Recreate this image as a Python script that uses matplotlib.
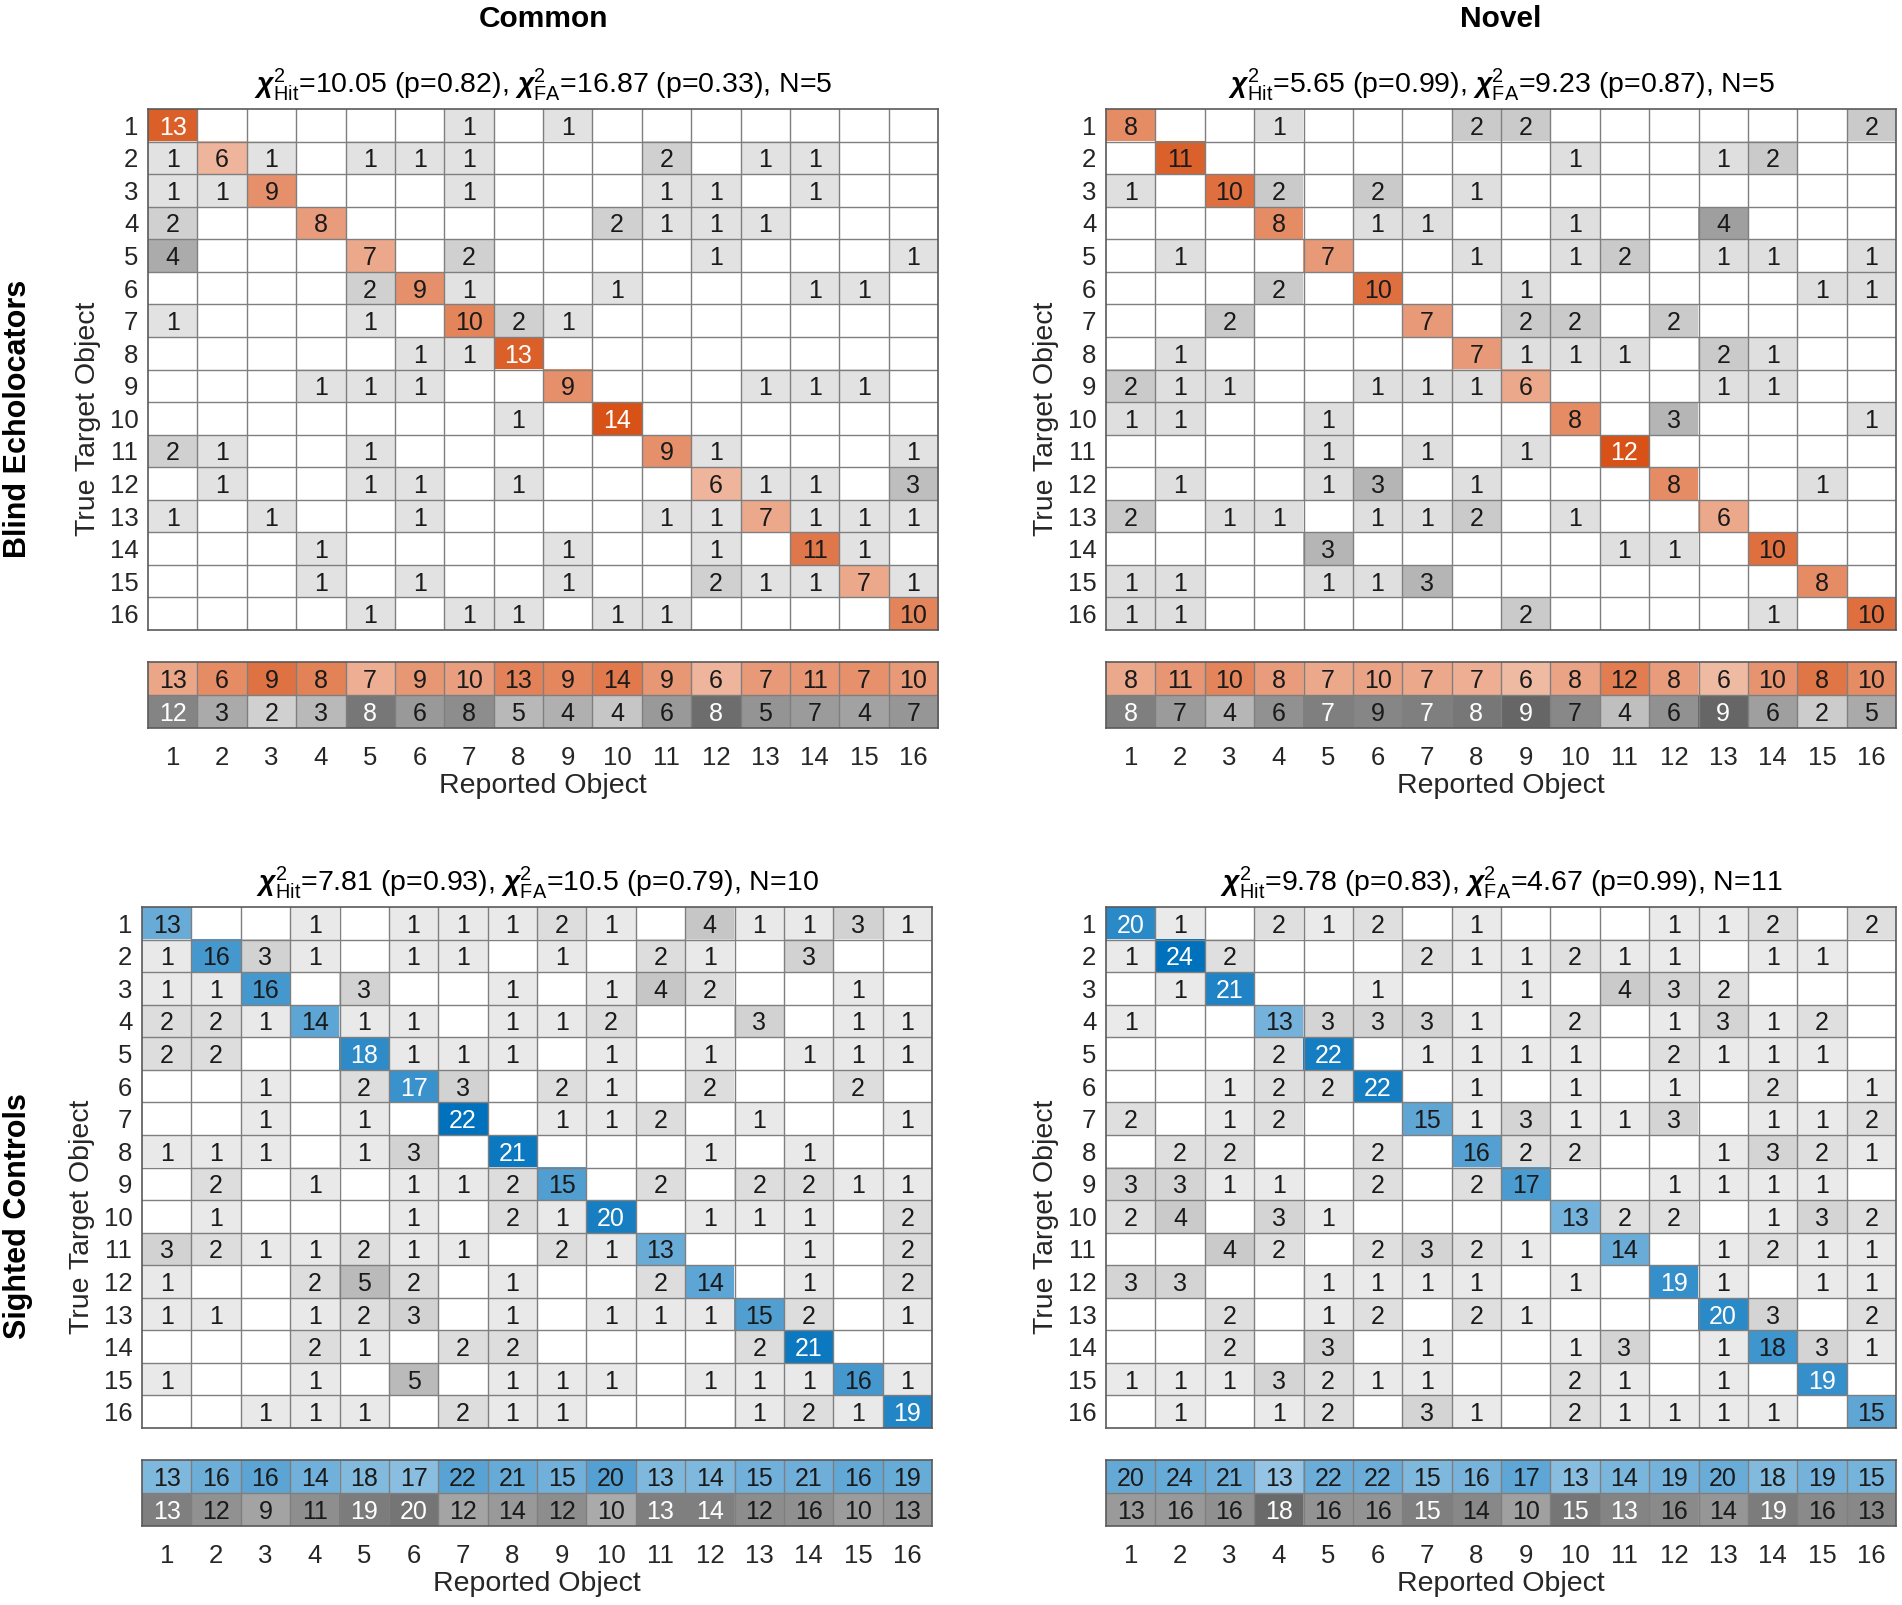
import numpy as np
import matplotlib
matplotlib.use('Agg')
import matplotlib.pyplot as plt

plt.rcParams['font.family'] = ['Liberation Sans', 'DejaVu Sans']
plt.rcParams['mathtext.fontset'] = 'custom'
plt.rcParams['mathtext.rm'] = 'Liberation Sans'
plt.rcParams['mathtext.it'] = 'Liberation Sans:italic'
plt.rcParams['mathtext.bf'] = 'Liberation Sans:bold:italic'

objects = list(range(1, 17))

# confusion counts, rows = true target object, cols = reported object
blind_common = [
    [13, 0, 0, 0, 0, 0, 1, 0, 1, 0, 0, 0, 0, 0, 0, 0],
    [1, 6, 1, 0, 1, 1, 1, 0, 0, 0, 2, 0, 1, 1, 0, 0],
    [1, 1, 9, 0, 0, 0, 1, 0, 0, 0, 1, 1, 0, 1, 0, 0],
    [2, 0, 0, 8, 0, 0, 0, 0, 0, 2, 1, 1, 1, 0, 0, 0],
    [4, 0, 0, 0, 7, 0, 2, 0, 0, 0, 0, 1, 0, 0, 0, 1],
    [0, 0, 0, 0, 2, 9, 1, 0, 0, 1, 0, 0, 0, 1, 1, 0],
    [1, 0, 0, 0, 1, 0, 10, 2, 1, 0, 0, 0, 0, 0, 0, 0],
    [0, 0, 0, 0, 0, 1, 1, 13, 0, 0, 0, 0, 0, 0, 0, 0],
    [0, 0, 0, 1, 1, 1, 0, 0, 9, 0, 0, 0, 1, 1, 1, 0],
    [0, 0, 0, 0, 0, 0, 0, 1, 0, 14, 0, 0, 0, 0, 0, 0],
    [2, 1, 0, 0, 1, 0, 0, 0, 0, 0, 9, 1, 0, 0, 0, 1],
    [0, 1, 0, 0, 1, 1, 0, 1, 0, 0, 0, 6, 1, 1, 0, 3],
    [1, 0, 1, 0, 0, 1, 0, 0, 0, 0, 1, 1, 7, 1, 1, 1],
    [0, 0, 0, 1, 0, 0, 0, 0, 1, 0, 0, 1, 0, 11, 1, 0],
    [0, 0, 0, 1, 0, 1, 0, 0, 1, 0, 0, 2, 1, 1, 7, 1],
    [0, 0, 0, 0, 1, 0, 1, 1, 0, 1, 1, 0, 0, 0, 0, 10],
]

blind_novel = [
    [8, 0, 0, 1, 0, 0, 0, 2, 2, 0, 0, 0, 0, 0, 0, 2],
    [0, 11, 0, 0, 0, 0, 0, 0, 0, 1, 0, 0, 1, 2, 0, 0],
    [1, 0, 10, 2, 0, 2, 0, 1, 0, 0, 0, 0, 0, 0, 0, 0],
    [0, 0, 0, 8, 0, 1, 1, 0, 0, 1, 0, 0, 4, 0, 0, 0],
    [0, 1, 0, 0, 7, 0, 0, 1, 0, 1, 2, 0, 1, 1, 0, 1],
    [0, 0, 0, 2, 0, 10, 0, 0, 1, 0, 0, 0, 0, 0, 1, 1],
    [0, 0, 2, 0, 0, 0, 7, 0, 2, 2, 0, 2, 0, 0, 0, 0],
    [0, 1, 0, 0, 0, 0, 0, 7, 1, 1, 1, 0, 2, 1, 0, 0],
    [2, 1, 1, 0, 0, 1, 1, 1, 6, 0, 0, 0, 1, 1, 0, 0],
    [1, 1, 0, 0, 1, 0, 0, 0, 0, 8, 0, 3, 0, 0, 0, 1],
    [0, 0, 0, 0, 1, 0, 1, 0, 1, 0, 12, 0, 0, 0, 0, 0],
    [0, 1, 0, 0, 1, 3, 0, 1, 0, 0, 0, 8, 0, 0, 1, 0],
    [2, 0, 1, 1, 0, 1, 1, 2, 0, 1, 0, 0, 6, 0, 0, 0],
    [0, 0, 0, 0, 3, 0, 0, 0, 0, 0, 1, 1, 0, 10, 0, 0],
    [1, 1, 0, 0, 1, 1, 3, 0, 0, 0, 0, 0, 0, 0, 8, 0],
    [1, 1, 0, 0, 0, 0, 0, 0, 2, 0, 0, 0, 0, 1, 0, 10],
]

sighted_common = [
    [13, 0, 0, 1, 0, 1, 1, 1, 2, 1, 0, 4, 1, 1, 3, 1],
    [1, 16, 3, 1, 0, 1, 1, 0, 1, 0, 2, 1, 0, 3, 0, 0],
    [1, 1, 16, 0, 3, 0, 0, 1, 0, 1, 4, 2, 0, 0, 1, 0],
    [2, 2, 1, 14, 1, 1, 0, 1, 1, 2, 0, 0, 3, 0, 1, 1],
    [2, 2, 0, 0, 18, 1, 1, 1, 0, 1, 0, 1, 0, 1, 1, 1],
    [0, 0, 1, 0, 2, 17, 3, 0, 2, 1, 0, 2, 0, 0, 2, 0],
    [0, 0, 1, 0, 1, 0, 22, 0, 1, 1, 2, 0, 1, 0, 0, 1],
    [1, 1, 1, 0, 1, 3, 0, 21, 0, 0, 0, 1, 0, 1, 0, 0],
    [0, 2, 0, 1, 0, 1, 1, 2, 15, 0, 2, 0, 2, 2, 1, 1],
    [0, 1, 0, 0, 0, 1, 0, 2, 1, 20, 0, 1, 1, 1, 0, 2],
    [3, 2, 1, 1, 2, 1, 1, 0, 2, 1, 13, 0, 0, 1, 0, 2],
    [1, 0, 0, 2, 5, 2, 0, 1, 0, 0, 2, 14, 0, 1, 0, 2],
    [1, 1, 0, 1, 2, 3, 0, 1, 0, 1, 1, 1, 15, 2, 0, 1],
    [0, 0, 0, 2, 1, 0, 2, 2, 0, 0, 0, 0, 2, 21, 0, 0],
    [1, 0, 0, 1, 0, 5, 0, 1, 1, 1, 0, 1, 1, 1, 16, 1],
    [0, 0, 1, 1, 1, 0, 2, 1, 1, 0, 0, 0, 1, 2, 1, 19],
]

sighted_novel = [
    [20, 1, 0, 2, 1, 2, 0, 1, 0, 0, 0, 1, 1, 2, 0, 2],
    [1, 24, 2, 0, 0, 0, 2, 1, 1, 2, 1, 1, 0, 1, 1, 0],
    [0, 1, 21, 0, 0, 1, 0, 0, 1, 0, 4, 3, 2, 0, 0, 0],
    [1, 0, 0, 13, 3, 3, 3, 1, 0, 2, 0, 1, 3, 1, 2, 0],
    [0, 0, 0, 2, 22, 0, 1, 1, 1, 1, 0, 2, 1, 1, 1, 0],
    [0, 0, 1, 2, 2, 22, 0, 1, 0, 1, 0, 1, 0, 2, 0, 1],
    [2, 0, 1, 2, 0, 0, 15, 1, 3, 1, 1, 3, 0, 1, 1, 2],
    [0, 2, 2, 0, 0, 2, 0, 16, 2, 2, 0, 0, 1, 3, 2, 1],
    [3, 3, 1, 1, 0, 2, 0, 2, 17, 0, 0, 1, 1, 1, 1, 0],
    [2, 4, 0, 3, 1, 0, 0, 0, 0, 13, 2, 2, 0, 1, 3, 2],
    [0, 0, 4, 2, 0, 2, 3, 2, 1, 0, 14, 0, 1, 2, 1, 1],
    [3, 3, 0, 0, 1, 1, 1, 1, 0, 1, 0, 19, 1, 0, 1, 1],
    [0, 0, 2, 0, 1, 2, 0, 2, 1, 0, 0, 0, 20, 3, 0, 2],
    [0, 0, 2, 0, 3, 0, 1, 0, 0, 1, 3, 0, 1, 18, 3, 1],
    [1, 1, 1, 3, 2, 1, 1, 0, 0, 2, 1, 0, 1, 0, 19, 0],
    [0, 1, 0, 1, 2, 0, 3, 1, 0, 2, 1, 1, 1, 1, 0, 15],
]

# chi-square stats for the panel titles (blind common, blind novel, sighted common, sighted novel)
chi_hit = [10.05, 5.65, 7.81, 9.78]
p_hit = [0.82, 0.99, 0.93, 0.83]
chi_fa = [16.87, 9.23, 10.5, 4.67]
p_fa = [0.33, 0.87, 0.79, 0.99]
n_subjects = [5, 5, 10, 11]

ORANGE = (0.85, 0.325, 0.098)
BLUE = (0.0, 0.447, 0.741)
GRID = '#7f7f7f'
DARK = '#262626'

W, H = 1902, 1605


def blend(base, a):
    return tuple(1 - a * (1 - c) for c in base)


def lum(rgb):
    return 0.299 * rgb[0] + 0.587 * rgb[1] + 0.114 * rgb[2]


def draw_cells(ax, rgb, labels, txtcolors):
    nr, nc = len(rgb), len(rgb[0])
    ax.imshow(np.array(rgb), aspect='auto', interpolation='nearest',
              extent=(0.5, nc + 0.5, nr + 0.5, 0.5))
    for k in range(1, nc):
        ax.axvline(k + 0.5, color=GRID, lw=1.0)
    for k in range(1, nr):
        ax.axhline(k + 0.5, color=GRID, lw=1.0)
    for i in range(nr):
        for j in range(nc):
            if labels[i][j]:
                ax.text(j + 1, i + 1, labels[i][j], ha='center', va='center_baseline',
                        fontsize=18, color=txtcolors[i][j])
    for s in ax.spines.values():
        s.set_color('#5a5a5a')
        s.set_linewidth(1.2)
    ax.tick_params(length=0, labelsize=18.5, labelcolor=DARK)


def draw_panel(fig, px_left, px_top, mat, base, idx):
    """px_left / px_top: pixel position of the matrix top-left corner"""
    m = np.array(mat)
    n = m.shape[0]
    dmax = np.diag(m).max()
    mw, mh = 790, 521
    sum_gap, sum_h = 32, 66

    rgb, labels, tcols = [], [], []
    for i in range(n):
        rrow, lrow, trow = [], [], []
        for j in range(n):
            v = m[i, j]
            if v == 0:
                col = (1, 1, 1)
            elif i == j:
                col = blend(base, v / dmax)
            else:
                g = max(0.96 - v / dmax, 0.3)
                col = (g, g, g)
            rrow.append(col)
            lrow.append(str(v) if v else '')
            trow.append('white' if lum(col) < 0.5 else '#1a1a1a')
        rgb.append(rrow)
        labels.append(lrow)
        tcols.append(trow)

    ax = fig.add_axes([px_left / W, 1 - (px_top + mh) / H, mw / W, mh / H])
    draw_cells(ax, rgb, labels, tcols)
    ax.set_xticks([])
    ax.set_yticks(objects)
    ax.set_yticklabels([str(o) for o in objects])
    ax.tick_params(axis='y', pad=7)

    # summary rows: hits (diagonal) and false alarms (column total minus hits)
    colsum = m.sum(axis=0)
    hits = np.diag(m)
    fas = colsum - hits
    srgb, slab, stc = [[], []], [[], []], [[], []]
    for j in range(n):
        a = hits[j] / colsum[j]
        c = blend(base, a)
        srgb[0].append(c)
        slab[0].append(str(hits[j]))
        stc[0].append('white' if lum(c) < 0.5 else '#1a1a1a')
        f = fas[j] / colsum[j]
        g = 1 - f
        srgb[1].append((g, g, g))
        slab[1].append(str(fas[j]))
        stc[1].append('white' if f > 0.475 else '#1a1a1a')
    s_top = px_top + mh + sum_gap
    sax = fig.add_axes([px_left / W, 1 - (s_top + sum_h) / H, mw / W, sum_h / H])
    draw_cells(sax, srgb, slab, stc)
    sax.set_yticks([])
    sax.set_xticks(objects)
    sax.set_xticklabels([str(o) for o in objects])
    sax.tick_params(axis='x', pad=13)

    cx = (px_left + mw / 2) / W
    fig.text(cx, 1 - (s_top + sum_h + 58) / H, 'Reported Object', ha='center', va='center',
             fontsize=20.5, color=DARK)
    fig.text((px_left - 60) / W, 1 - (px_top + s_top + sum_h) / 2 / H, 'True Target Object',
             ha='center', va='center', rotation=90, fontsize=20.5, color=DARK)
    title = (r'$\mathbf{\chi}^{2}_{\mathrm{Hit}}$' + '={:g} (p={:g}), '.format(chi_hit[idx], p_hit[idx])
             + r'$\mathbf{\chi}^{2}_{\mathrm{FA}}$' + '={:g} (p={:g}), N={:d}'.format(chi_fa[idx], p_fa[idx],
                                                                                 n_subjects[idx]))
    fig.text(cx, 1 - (px_top - 16) / H, title, ha='center', va='baseline', fontsize=20.5, color='black')
    return (px_top + s_top + sum_h) / 2


fig = plt.figure(figsize=(W / 100, H / 100), dpi=100)

ytop = draw_panel(fig, 148, 109, blind_common, ORANGE, 0)
draw_panel(fig, 1106, 109, blind_novel, ORANGE, 1)
ybot = draw_panel(fig, 142, 907, sighted_common, BLUE, 2)
draw_panel(fig, 1106, 907, sighted_novel, BLUE, 3)

fig.text(543 / W, 1 - 19 / H, 'Common', ha='center', va='center', fontsize=21.5, fontweight='bold')
fig.text(1501 / W, 1 - 19 / H, 'Novel', ha='center', va='center', fontsize=21.5, fontweight='bold')
fig.text(18 / W, 1 - ytop / H, 'Blind Echolocators', ha='center', va='center', rotation=90,
         fontsize=22, fontweight='bold')
fig.text(18 / W, 1 - ybot / H, 'Sighted Controls', ha='center', va='center', rotation=90,
         fontsize=22, fontweight='bold')

fig.savefig('out.png', dpi=100, facecolor='white')
